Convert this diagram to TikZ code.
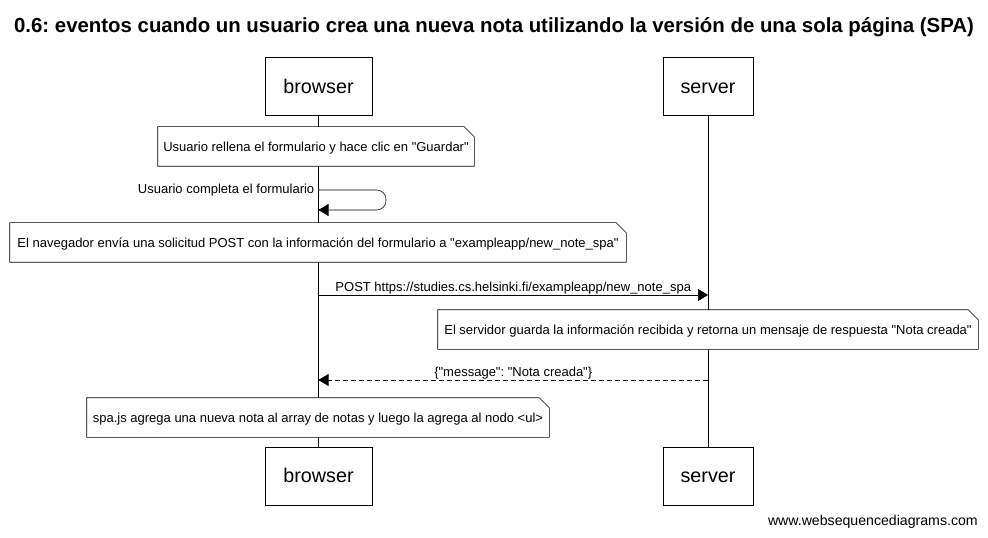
\documentclass[tikz,border=0pt]{standalone}
\usepackage{fontspec}
\setmainfont{Liberation Sans}[Ligatures=TeXOff]
\usetikzlibrary{arrows.meta}
\pgfdeclarelayer{bg}
\pgfdeclarelayer{mid}
\pgfsetlayers{bg,mid,main}
\newcommand{\dq}{\symbol{34}}
\begin{document}
\frenchspacing
\begin{tikzpicture}[x=0.75pt,y=-0.75pt,line width=0.75pt,
  actor/.style={draw,fill=white,minimum height=43.5pt,inner sep=0pt,text height=12.5pt,text depth=3pt,font=\fontsize{14.8}{17}\selectfont},
  notetext/.style={minimum height=29.25pt,inner sep=0pt,text height=8.8pt,text depth=2pt,font=\fontsize{9.75}{12}\selectfont},
  msg/.style={font=\fontsize{9.75}{12}\selectfont},
  tip/.style={-{Triangle[length=7.5pt,width=9pt]}},
  reply/.style={dash pattern=on 3.75pt off 2.25pt}]
\useasboundingbox (0,0) rectangle (988,538);
% title
\node[font=\bfseries\fontsize{15.3}{18}\selectfont] (title) at (494,27) {0.6: eventos cuando un usuario crea una nueva nota utilizando la versión de una sola página (SPA)};
% participants
\node[actor,minimum width=80.25pt] (bt) at (318.5,87) {browser};
\node[actor,minimum width=67.5pt] (st) at (708,87) {server};
\node[actor,minimum width=80.25pt] (bb) at (318.5,476) {browser};
\node[actor,minimum width=67.5pt] (sb) at (708,476) {server};
\begin{pgfonlayer}{bg}
\draw (bt.south) -- (bb.north);
\draw (st.south) -- (sb.north);
\end{pgfonlayer}
% notes
\newcommand{\notebox}[4]{%
  \node[notetext,minimum width=#3] (#1) at #2 {#4};
  \begin{pgfonlayer}{mid}
  \draw[fill=white] (#1.south west) -- (#1.north west) -- ([xshift=-7.5pt]#1.north east) -- ([yshift=-7.5pt]#1.north east) -- (#1.south east) -- cycle;
  \end{pgfonlayer}}
\notebox{n1}{(316,146.5)}{237pt}{Usuario rellena el formulario y hace clic en \dq Guardar\dq}
\notebox{n2}{(318,242.5)}{462pt}{El navegador envía una solicitud POST con la información del formulario a \dq exampleapp/new\_note\_spa\dq}
\notebox{n3}{(708,329.5)}{405pt}{El servidor guarda la información recibida y retorna un mensaje de respuesta \dq Nota creada\dq}
\notebox{n4}{(318,417.5)}{346.5pt}{spa.js agrega una nueva nota al array de notas y luego la agrega al nodo <ul>}
% self message
\coordinate (sa) at (318.5,190);
\coordinate (sc) at (318.5,210);
\node[msg,anchor=east,inner sep=3pt] (sl) at (sa) {Usuario completa el formulario};
\draw[tip,rounded corners=7pt] (sa) -- (386,190) -- (386,210) -- (sc);
% POST
\coordinate (pa) at (318.5,295);
\coordinate (pb) at (708,295);
\draw[tip] (pa) -- node[msg,above,inner sep=0.6pt] (pl) {POST https://studies.cs.helsinki.fi/exampleapp/new\_note\_spa} (pb);
% reply
\coordinate (ra) at (708,380);
\coordinate (rb) at (318.5,380);
\draw[tip,reply] (ra) -- node[msg,above,inner sep=0.6pt] (rl) {\{\dq message\dq: \dq Nota creada\dq\}} (rb);
% footer
\node[anchor=east,inner sep=0pt,font=\fontsize{10.6}{12}\selectfont] (foot) at (978,522) {www.websequencediagrams.com};
\end{tikzpicture}
\end{document}
